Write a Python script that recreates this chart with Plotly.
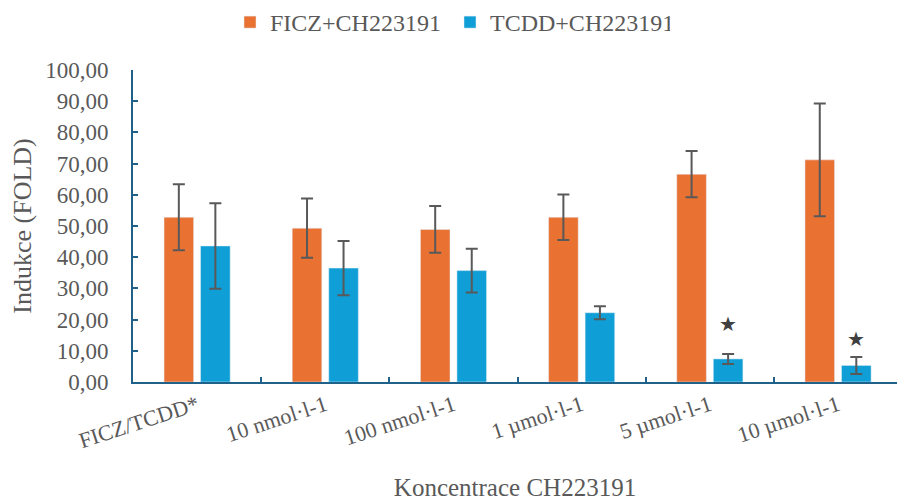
import plotly.graph_objects as go

# Concentration groups of the AhR antagonist CH223191
categories = ["FICZ/TCDD*", "10 nmol·l-1", "100 nmol·l-1", "1 µmol·l-1", "5 µmol·l-1", "10 µmol·l-1"]

# Fold induction (mean) and standard deviation per group
ficz_mean = [52.8, 49.3, 48.9, 52.8, 66.6, 71.2]
ficz_sd = [10.6, 9.5, 7.5, 7.3, 7.4, 18.1]
tcdd_mean = [43.6, 36.5, 35.7, 22.2, 7.4, 5.3]
tcdd_sd = [13.7, 8.7, 7.0, 2.1, 1.6, 2.7]

# Significance markers above the TCDD bars (height in fold units)
star_y = [None, None, None, None, 18.5, 13.7]

ORANGE = "#E97132"
BLUE = "#0F9ED5"
GREY = "#595959"
AXIS = "#1F6188"
FONT = "Liberation Serif"

W, H = 897, 503
M_L, M_R, M_T, M_B = 133, 0, 70, 121
BARGAP = 0.43
X_RANGE = [-0.5, len(categories) - 0.54]

err_style = dict(type="data", color=GREY, thickness=2, width=6)

fig = go.Figure()
fig.add_trace(go.Bar(
    name="FICZ+CH223191", x=categories, y=ficz_mean,
    marker=dict(color=ORANGE),
    error_y=dict(array=ficz_sd, **err_style),
))
fig.add_trace(go.Bar(
    name="TCDD+CH223191", x=categories, y=tcdd_mean,
    marker=dict(color=BLUE),
    error_y=dict(array=tcdd_sd, **err_style),
))

# horizontal offset of the second bar in each group, in pixels
cat_px = (W - M_L - M_R) / (X_RANGE[1] - X_RANGE[0])
blue_shift = cat_px * (1 - BARGAP) / 4

for cat, sy in zip(categories, star_y):
    if sy is None:
        continue
    fig.add_annotation(
        x=cat, y=sy, xref="x", yref="y", text="★", showarrow=False,
        xshift=blue_shift, font=dict(family="DejaVu Sans", size=20, color="#404040"),
    )

fig.update_layout(
    width=W, height=H,
    margin=dict(l=M_L, r=M_R, t=M_T, b=M_B),
    paper_bgcolor="white", plot_bgcolor="white",
    barmode="group", bargap=BARGAP, bargroupgap=0.19,
    separators=",.",
    font=dict(family=FONT, color=GREY, size=22),
    legend=dict(
        orientation="h", xref="container", yref="container",
        x=230 / W, xanchor="left", y=1.0, yanchor="top",
        font=dict(family=FONT, size=24, color=GREY),
        itemwidth=30, tracegroupgap=0,
        entrywidth=175, entrywidthmode="pixels",
    ),
    showlegend=True,
)

fig.update_xaxes(
    type="category", range=X_RANGE,
    showline=True, linecolor=AXIS, linewidth=2,
    ticks="inside", ticklen=5, tickcolor=AXIS, tickwidth=2,
    tickson="boundaries",
    tickangle=-18,
    tickfont=dict(family=FONT, size=22, color=GREY),
    title=dict(text="Koncentrace CH223191", font=dict(family=FONT, size=25, color=GREY), standoff=26),
    showgrid=False, zeroline=False,
)
fig.update_yaxes(
    range=[0, 100], dtick=10, tickformat=".2f",
    showline=True, linecolor=AXIS, linewidth=2,
    ticks="inside", ticklen=5, tickcolor=AXIS, tickwidth=2,
    tickfont=dict(family=FONT, size=23, color=GREY),
    ticklabelstandoff=18,
    title=dict(text="Indukce (FOLD)", font=dict(family=FONT, size=26, color=GREY), standoff=6),
    showgrid=False, zeroline=False,
)

fig.write_html("out.html")
